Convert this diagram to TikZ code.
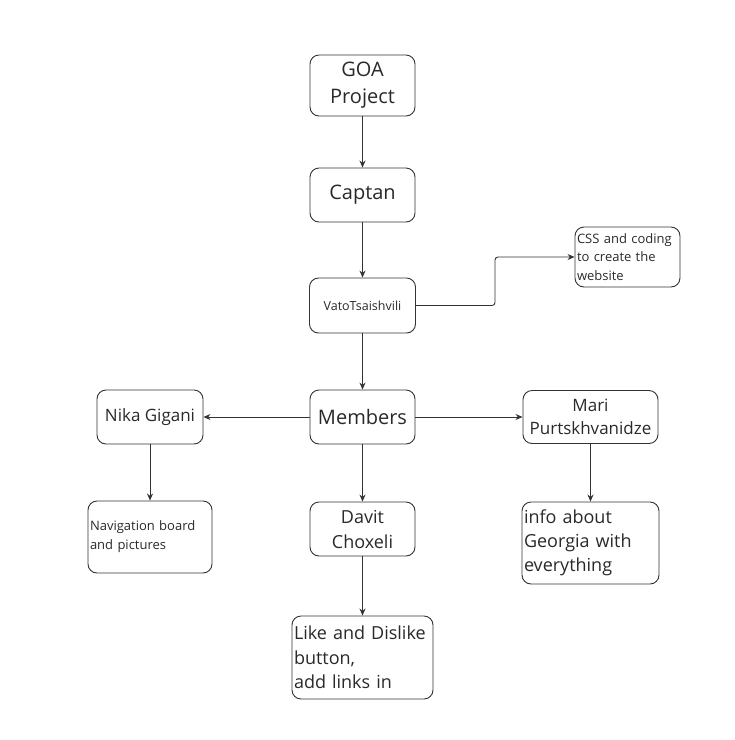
\documentclass[tikz,border=0pt]{standalone}
\usepackage{fontspec}
\setmainfont{Open Sans}
\usetikzlibrary{arrows.meta}
\definecolor{ln}{HTML}{333333}
\tikzset{
  box/.style={draw=ln, line width=0.9pt, rounded corners=9pt, inner sep=2pt, text=ln!80!black},
  ctr/.style={box, align=center},
  lft/.style={box, align=left},
  conn/.style={draw=ln, line width=0.9pt, -{Stealth[length=7pt,width=6pt]}},
}
\newcommand{\fs}[2]{\fontsize{#1}{#2}\selectfont}
\begin{document}
\begin{tikzpicture}[x=1pt,y=-1pt]
\useasboundingbox (0,0) rectangle (735,740);
\node[ctr, minimum width=105pt, minimum height=61pt, font=\fs{20}{27}] (goa) at (362.5,85.5) {GOA\\Project};
\node[ctr, minimum width=105pt, minimum height=54pt, font=\fs{20}{27}] (cap) at (362.5,195) {Captan};
\node[ctr, minimum width=106pt, minimum height=55pt, font=\fs{12.5}{16}] (vato) at (362.5,305.5) {VatoTsaishvili};
\node[lft, text width=101pt, minimum height=60pt, font=\fs{13}{18.5}] (css) at (627.5,257) {CSS and coding\\to create the\\website};
\node[ctr, minimum width=105pt, minimum height=54pt, font=\fs{20}{27}] (mem) at (362.5,417) {Members};
\node[ctr, minimum width=106pt, minimum height=54pt, font=\fs{17}{23}] (nika) at (150,417) {Nika Gigani};
\node[ctr, minimum width=135pt, minimum height=53pt, font=\fs{17}{23}] (mari) at (590.5,417) {Mari\\Purtskhvanidze};
\node[lft, text width=120pt, minimum height=72pt, font=\fs{13}{19}] (nav) at (150,537) {Navigation board\\and pictures};
\node[lft, text width=133pt, minimum height=82pt, font=\fs{18}{24}] (info) at (590.5,543) {info about\\Georgia with\\everything};
\node[ctr, minimum width=105pt, minimum height=54pt, font=\fs{18}{25}] (davit) at (362.5,529) {Davit\\Choxeli};
\node[lft, text width=137pt, minimum height=83pt, font=\fs{18}{24.5}] (like) at (362.5,657.5) {Like and Dislike\\button,\\add links in};
\coordinate (bend) at (495,305.5);
\draw[conn] (goa) -- (cap);
\draw[conn] (cap) -- (vato);
\draw[conn] (vato) -- (mem);
\draw[conn] (mem) -- (nika);
\draw[conn] (mem) -- (mari);
\draw[conn] (mem) -- (davit);
\draw[conn] (davit) -- (like);
\draw[conn] (nika) -- (nav);
\draw[conn] (mari) -- (info);
\draw[conn, rounded corners=3pt] (vato.east) -- (bend) |- (css.west);
\end{tikzpicture}
\end{document}
